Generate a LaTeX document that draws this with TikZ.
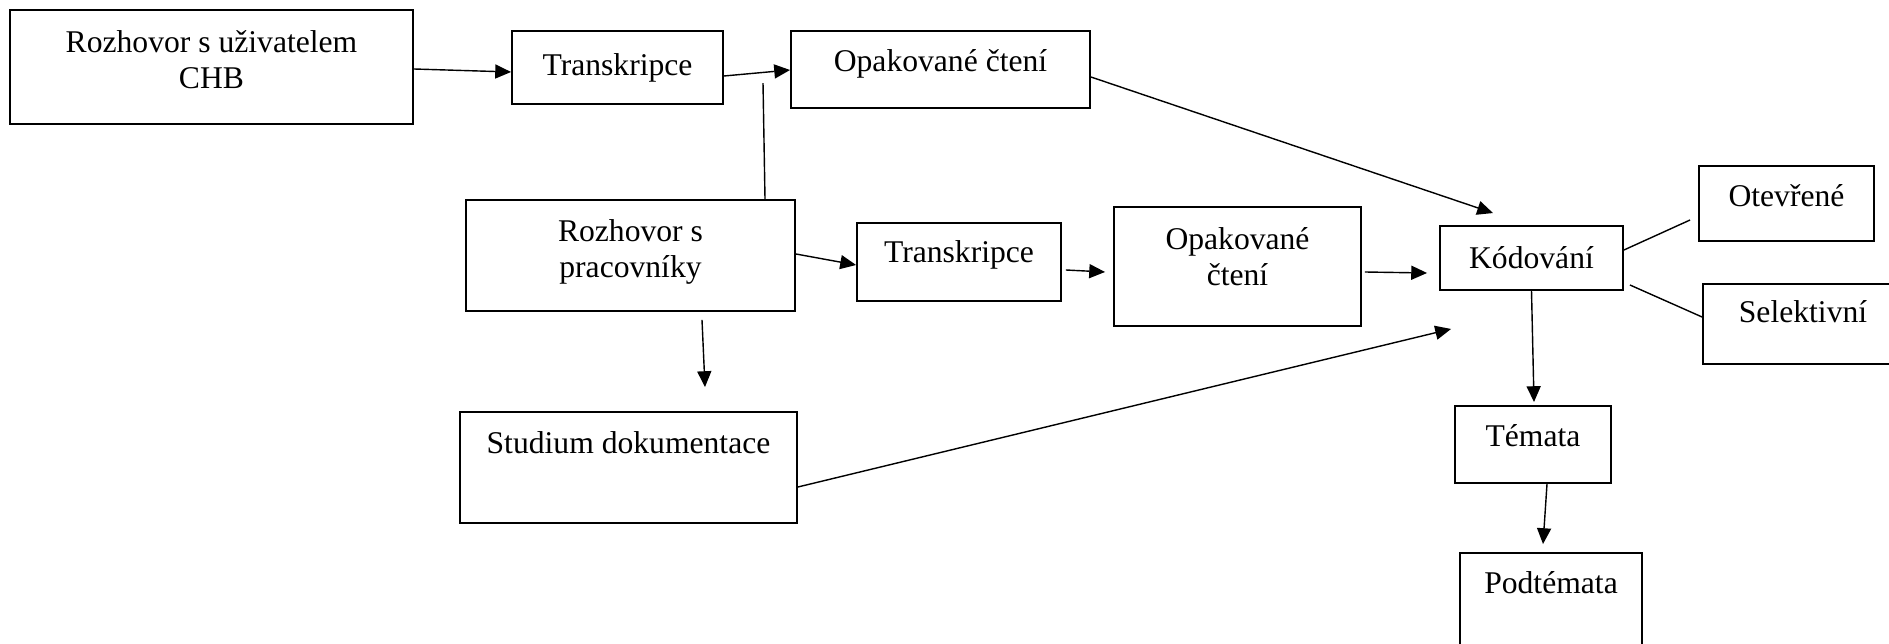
\documentclass[tikz,border=0pt]{standalone}
\usepackage{fontspec}
\setmainfont{Liberation Serif}
\usetikzlibrary{arrows.meta,calc}

\begin{document}
\begin{tikzpicture}[x=0.02cm, y=-0.02cm, line width=0.8pt,
    box/.style={draw, rectangle, line width=1.1pt, inner sep=0pt, align=center,
      font=\fontsize{18}{21}\selectfont},
    topbox/.style n args={4}{box, minimum width=#1, minimum height=#2,
      text height=#3, text depth=#4},
    arr/.style={-{Triangle[length=9pt, width=8pt]}}]
    \clip (0, 0) rectangle (1889, 644);

    % draw first row
    \node[topbox={8.06cm}{2.28cm}{1.58cm}{0.70cm}] (user) at (211.5, 67) {Rozhovor s uživatelem\\CHB};
    \node[topbox={4.22cm}{1.46cm}{0.90cm}{0.56cm}] (trans1) at (617.5, 67.5) {Transkripce};
    \node[topbox={5.98cm}{1.54cm}{0.82cm}{0.72cm}] (opak1) at (940.5, 69.5) {Opakované čtení};

    % draw second row
    \node[topbox={6.58cm}{2.22cm}{1.56cm}{0.66cm}] (prac) at (630.5, 255.5) {Rozhovor s\\pracovníky};
    \node[topbox={4.08cm}{1.56cm}{0.80cm}{0.76cm}] (trans2) at (959, 262) {Transkripce};
    \node[topbox={4.94cm}{2.38cm}{1.58cm}{0.80cm}] (opak2) at (1237.5, 266.5) {Opakované\\čtení};
    \node[topbox={6.74cm}{2.22cm}{0.82cm}{1.40cm}] (stud) at (628.5, 467.5) {Studium dokumentace};

    % draw coding boxes
    \node[box, minimum width=3.66cm, minimum height=1.28cm] (kod) at (1531.5, 258) {Kódování};
    \node[topbox={3.50cm}{1.50cm}{0.82cm}{0.68cm}] (otev) at (1786.5, 203.5) {Otevřené};
    \node[topbox={4.00cm}{1.60cm}{0.78cm}{0.82cm}] (sel) at (1803, 324) {Selektivní};
    \node[topbox={3.12cm}{1.54cm}{0.82cm}{0.72cm}] (tem) at (1533, 444.5) {Témata};
    \node[topbox={3.64cm}{2.14cm}{0.80cm}{1.34cm}] (podt) at (1551, 606.5) {Podtémata};

    % draw arrows of first row
    \draw[arr] ($(user.east) + (0, 2)$) -- ($(trans1.west) + (0, 4.5)$);
    \draw[arr] ($(trans1.east) + (0, 8.5)$) -- ($(opak1.west) + (0, 0.5)$);
    \draw ($(prac.north) + (134.5, 0)$) -- ($(prac.north) + (132.5, -116)$);
    \draw[arr] ($(opak1.east) + (0, 7.5)$) -- ($(kod.north) + (-38.5, -12)$);

    % draw arrows of second row
    \draw[arr] ($(prac.east) + (0, -1.5)$) -- ($(trans2.west) + (0, 3)$);
    \draw[arr] ($(trans2.east) + (4, 8)$) -- ($(opak2.west) + (-8, 5.5)$);
    \draw[arr] ($(opak2.east) + (3, 5.5)$) -- ($(kod.west) + (-12, 15)$);
    \draw[arr] ($(prac.south) + (71.5, 8)$) -- ($(stud.north) + (76.5, -24)$);
    \draw[arr] ($(stud.east) + (0, 19.5)$) -- ($(kod.south west) + (12, 38)$);

    % draw coding links
    \draw[arr] (kod.south) -- ($(tem.north) + (1, -3)$);
    \draw[arr] ($(tem.south) + (14, 0)$) -- ($(podt.north) + (-8, -8)$);
    \draw ($(kod.east) + (0, -8)$) -- ($(otev.west) + (-8, 16.5)$);
    \draw ($(kod.east) + (6, 27)$) -- ($(sel.west) + (0, -7)$);

\end{tikzpicture}
\end{document}
